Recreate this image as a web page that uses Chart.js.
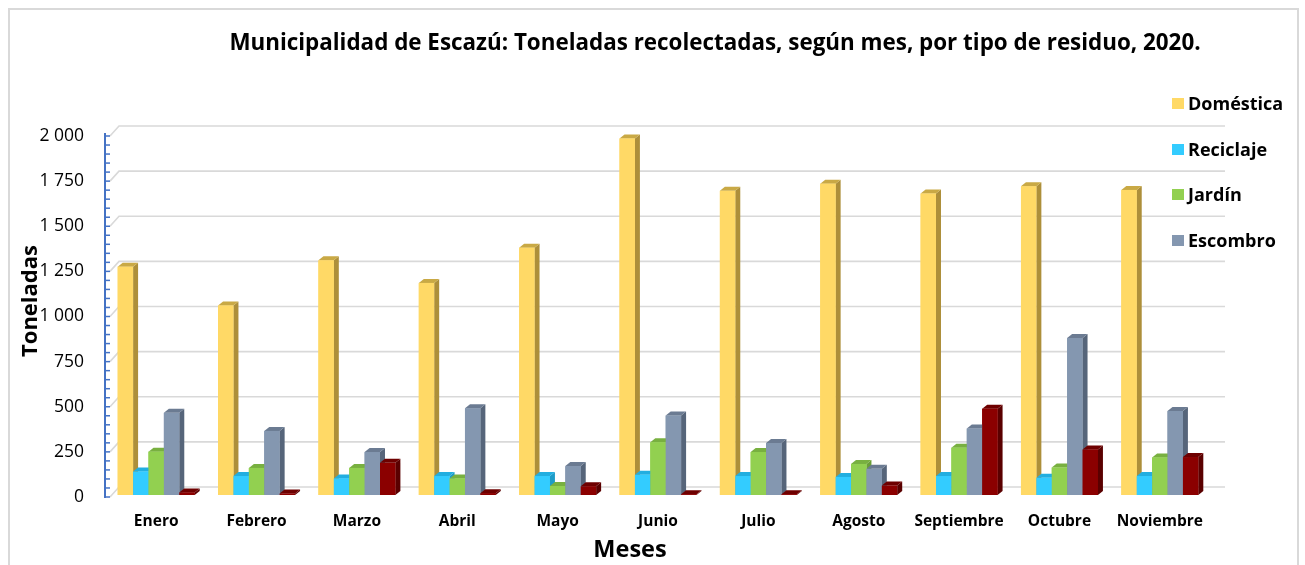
<!DOCTYPE html>
<html lang="es">
<head>
<meta charset="utf-8">
<title>Escazú: toneladas recolectadas 2020</title>
<script src="https://cdn.jsdelivr.net/npm/chart.js@4.4.1/dist/chart.umd.min.js"></script>
<style>
  html, body { margin: 0; padding: 0; background: #fff; }
  body { width: 1305px; height: 565px; overflow: hidden; position: relative; font-family: 'Open Sans', Lato, sans-serif; color: #000; }
  .frame { position: absolute; left: 8px; top: 8px; width: 1287px; height: 600px; border: 2px solid #d9d9d9; }
  #c { position: absolute; left: 0; top: 0; }
  .title { position: absolute; left: 0; top: 27px; width: 1430px; text-align: center; font-weight: 700; font-size: 22.4px; line-height: 30px; white-space: nowrap; }
  .ytitle { position: absolute; left: -72px; top: 285px; width: 200px; text-align: center; font-weight: 700; font-size: 22px; line-height: 32px; transform: rotate(-90deg); }
  .xtitle { position: absolute; left: 530px; top: 532px; width: 200px; text-align: center; font-weight: 700; font-size: 23.5px; line-height: 32px; }
  .legend { position: absolute; left: 1172px; top: 89px; }
  .legend .it { height: 45.6px; display: flex; align-items: flex-start; font-weight: 700; font-size: 18px; line-height: 28px; }
  .legend .sw { width: 12px; height: 11px; margin: 9px 4px 0 0; }
</style>
</head>
<body>
<div class="frame"></div>
<canvas id="c" width="1305" height="565"></canvas>
<div class="title">Municipalidad de Escazú: Toneladas recolectadas, según mes, por tipo de residuo, 2020.</div>
<div class="ytitle">Toneladas</div>
<div class="xtitle">Meses</div>
<div class="legend" id="legend"></div>
<script>
/* ===== data ===== */
const meses = ['Enero', 'Febrero', 'Marzo', 'Abril', 'Mayo', 'Junio', 'Julio', 'Agosto', 'Septiembre', 'Octubre', 'Noviembre'];
const domestica = [1265, 1050, 1300, 1175, 1370, 1975, 1685, 1725, 1670, 1710, 1690];
const reciclaje = [130, 105, 92, 105, 105, 112, 105, 100, 105, 95, 105];
const jardin    = [240, 150, 150, 92, 50, 292, 238, 172, 262, 152, 208];
const escombro  = [455, 355, 238, 480, 160, 440, 288, 145, 368, 870, 465];
const otros     = [14, 8, 178, 10, 48, 4, 4, 52, 478, 252, 210];
const yTicks = [0, 250, 500, 750, 1000, 1250, 1500, 1750, 2000];

// front / side / top shades per series
const shades = [
  { front: '#FFD966', side: '#AD8F3A', top: '#C9A945' },
  { front: '#33CCFF', side: '#1E9CC8', top: '#22AEE0' },
  { front: '#92D050', side: '#6A9E38', top: '#78B040' },
  { front: '#8497B0', side: '#56657A', top: '#6B7B92' },
  { front: '#8B0000', side: '#5A0000', top: '#6E0000' }
];
const names = ['Doméstica', 'Reciclaje', 'Jardín', 'Escombro', 'Otros'];
const series = [domestica, reciclaje, jardin, escombro, otros];

const BAR = { dx: 5, dy: 4 };     // bar depth
const WALL = { dx: 13, dy: 10 };  // back wall offset
const fmt = v => String(v).replace(/\B(?=(\d{3})+(?!\d))/g, '\u00a0');

const walls3d = {
  id: 'walls3d',
  beforeDatasetsDraw(chart) {
    const { ctx, chartArea: a, scales: { y } } = chart;
    ctx.save();
    // back wall gridlines with short diagonal from the axis
    ctx.strokeStyle = '#d9d9d9'; ctx.lineWidth = 1.6;
    yTicks.forEach(v => {
      const yf = y.getPixelForValue(v) + 2;
      ctx.beginPath();
      ctx.moveTo(a.left + 4, yf);
      ctx.lineTo(a.left + WALL.dx, yf - WALL.dy);
      ctx.lineTo(a.right + 15, yf - WALL.dy);
      ctx.stroke();
    });
    // blue value axis with minor ticks
    ctx.strokeStyle = '#4472C4'; ctx.lineWidth = 2;
    const x0 = a.left - 1;
    ctx.beginPath();
    ctx.moveTo(x0, y.getPixelForValue(2000) - 1);
    ctx.lineTo(x0, y.getPixelForValue(0) + 3);
    ctx.stroke();
    ctx.lineWidth = 1.5;
    for (let v = 0; v <= 2000; v += 50) {
      const yy = y.getPixelForValue(v) + 2;
      ctx.beginPath(); ctx.moveTo(x0, yy); ctx.lineTo(x0 + 5, yy); ctx.stroke();
    }
    ctx.restore();
  },
  afterDatasetsDraw(chart) {
    const { ctx } = chart;
    ctx.save();
    chart.data.datasets.forEach((ds, di) => {
      const sh = shades[di];
      chart.getDatasetMeta(di).data.forEach(bar => {
        const { x, y, base, width } = bar.getProps(['x', 'y', 'base', 'width'], true);
        const l = x - width / 2, r = x + width / 2;
        ctx.fillStyle = sh.side;
        ctx.beginPath();
        ctx.moveTo(r, y); ctx.lineTo(r + BAR.dx, y - BAR.dy);
        ctx.lineTo(r + BAR.dx, base - BAR.dy); ctx.lineTo(r, base);
        ctx.closePath(); ctx.fill();
        ctx.fillStyle = sh.top;
        ctx.beginPath();
        ctx.moveTo(l, y); ctx.lineTo(l + BAR.dx, y - BAR.dy);
        ctx.lineTo(r + BAR.dx, y - BAR.dy); ctx.lineTo(r, y);
        ctx.closePath(); ctx.fill();
        ctx.fillStyle = sh.front;
        ctx.fillRect(l, y, width, base - y);
      });
    });
    ctx.restore();
  }
};

// legend (first four series only, as in the source)
document.getElementById('legend').innerHTML = names.slice(0, 4).map((n, i) =>
  `<div class="it"><span class="sw" style="background:${shades[i].front}"></span>${n}</div>`).join('');

new Chart(document.getElementById('c'), {
  type: 'bar',
  data: {
    labels: meses,
    datasets: series.map((d, i) => ({
      label: names[i], data: d,
      backgroundColor: shades[i].front, borderWidth: 0,
      categoryPercentage: 0.767, barPercentage: 1.0
    }))
  },
  options: {
    responsive: false, animation: false,
    layout: { padding: { left: 0, right: 95, top: 134, bottom: 0 } },
    plugins: { legend: { display: false }, title: { display: false }, tooltip: { enabled: false } },
    scales: {
      x: {
        grid: { display: false, drawTicks: false }, border: { display: false },
        ticks: { color: '#000', font: { family: 'Open Sans', size: 15.5, weight: 'bold' }, padding: 17, maxRotation: 0 },
        afterFit: s => { s.height = 70; }
      },
      y: {
        min: 0, max: 2000,
        afterBuildTicks: s => { s.ticks = yTicks.map(v => ({ value: v })); },
        grid: { display: false, drawTicks: false }, border: { display: false },
        ticks: { color: '#000', font: { family: 'Open Sans', size: 17.5 }, padding: 22, labelOffset: 2, callback: v => fmt(v) },
        afterFit: s => { s.width = 106; }
      }
    }
  },
  plugins: [walls3d]
});
</script>
</body>
</html>
